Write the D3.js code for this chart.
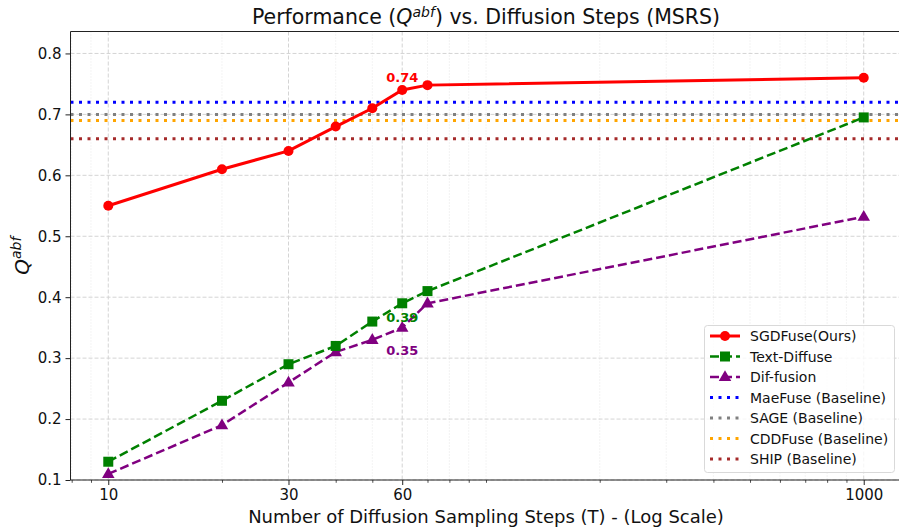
<!DOCTYPE html>
<html>
<head>
<meta charset="utf-8">
<script src="https://cdn.jsdelivr.net/npm/d3@7"></script>
<style>
  body { margin: 0; background: #fff; }
  svg { font-family: "DejaVu Sans", sans-serif; }
</style>
</head>
<body>
<div id="chart"></div>
<script>
var width = 899,
    height = 527;

// data
var steps = [10, 20, 30, 40, 50, 60, 70, 1000];
var sgdfuse = [0.55, 0.61, 0.64, 0.68, 0.71, 0.74, 0.748, 0.76];
var textDiffuse = [0.13, 0.23, 0.29, 0.32, 0.36, 0.39, 0.41, 0.695];
var difFusion = [0.11, 0.19, 0.26, 0.31, 0.33, 0.35, 0.39, 0.532];
var baselineNames = ["MaeFuse (Baseline)", "SAGE (Baseline)", "CDDFuse (Baseline)", "SHIP (Baseline)"];
var baselineValues = [0.72, 0.70, 0.69, 0.66];
var xTickValues = [10, 30, 60, 1000];
var yTickValues = [0.1, 0.2, 0.3, 0.4, 0.5, 0.6, 0.7, 0.8];

var series = [
  {name: "SGDFuse(Ours)", values: sgdfuse, color: "#ff0000", dash: null, lw: 3, marker: "circle", label: "0.74", labelDy: -13},
  {name: "Text-Diffuse", values: textDiffuse, color: "#008000", dash: "9,4", lw: 2.5, marker: "square", label: "0.39", labelDy: 14},
  {name: "Dif-fusion", values: difFusion, color: "#800080", dash: "9,4", lw: 2.5, marker: "triangle", label: "0.35", labelDy: 23}
];
var baselineColors = ["#0000ff", "#808080", "#ffa500", "#a52a2a"];

var margin = {left: 70.5, right: 901.5, top: 31.5, bottom: 480};

var x = d3.scaleLog().domain([7.943, 1258.9]).range([margin.left, margin.right]);
var y = d3.scaleLinear().domain([0.1, 0.836]).range([margin.bottom, margin.top]);

var svg = d3.select("#chart").append("svg")
    .attr("width", width)
    .attr("height", height);

var minorX = x.ticks().filter(function(t){ return xTickValues.indexOf(t) < 0; });

// grid
var grid = svg.append("g");
grid.selectAll(".minor").data(minorX).enter().append("line")
    .attr("x1", function(d){ return x(d); }).attr("x2", function(d){ return x(d); })
    .attr("y1", margin.top).attr("y2", margin.bottom)
    .attr("stroke", "#e2e2e2").attr("stroke-width", 0.8).attr("stroke-dasharray", "1,2");
grid.selectAll(".majx").data(xTickValues).enter().append("line")
    .attr("x1", function(d){ return x(d); }).attr("x2", function(d){ return x(d); })
    .attr("y1", margin.top).attr("y2", margin.bottom)
    .attr("stroke", "#d4d4d4").attr("stroke-width", 1).attr("stroke-dasharray", "4,2");
grid.selectAll(".majy").data(yTickValues).enter().append("line")
    .attr("x1", margin.left).attr("x2", margin.right)
    .attr("y1", function(d){ return y(d); }).attr("y2", function(d){ return y(d); })
    .attr("stroke", "#d4d4d4").attr("stroke-width", 1).attr("stroke-dasharray", "4,2");

// baselines
baselineValues.forEach(function(v, i){
  svg.append("line")
    .attr("x1", margin.left).attr("x2", margin.right)
    .attr("y1", y(v)).attr("y2", y(v))
    .attr("stroke", baselineColors[i]).attr("stroke-width", 3)
    .attr("stroke-dasharray", "3,5.5");
});

var line = d3.line()
    .x(function(d){ return x(d[0]); })
    .y(function(d){ return y(d[1]); });

function drawMarker(g, type, cx, cy, color) {
  if (type == "circle") {
    g.append("circle").attr("cx", cx).attr("cy", cy).attr("r", 5).attr("fill", color);
  } else if (type == "square") {
    g.append("rect").attr("x", cx - 5).attr("y", cy - 5).attr("width", 10).attr("height", 10).attr("fill", color);
  } else {
    g.append("path").attr("d", d3.symbol().type(d3.symbolTriangle).size(68)())
      .attr("transform", "translate(" + cx + "," + (cy + 0.5) + ")").attr("fill", color);
  }
}

// draw back to front so red is on top
series.slice().reverse().forEach(function(s){
  var pts = steps.map(function(t, i){ return [t, s.values[i]]; });
  var g = svg.append("g");
  g.append("path").datum(pts)
    .attr("d", line)
    .attr("fill", "none")
    .attr("stroke", s.color)
    .attr("stroke-width", s.lw)
    .attr("stroke-dasharray", s.dash);
  pts.forEach(function(p){ drawMarker(g, s.marker, x(p[0]), y(p[1]), s.color); });
});

// annotations at T = 60
series.forEach(function(s){
  var v = s.values[steps.indexOf(60)];
  svg.append("text")
    .attr("x", x(60)).attr("y", y(v) + s.labelDy)
    .attr("text-anchor", "middle").attr("dominant-baseline", "central")
    .attr("font-size", 13).attr("font-weight", "bold")
    .attr("fill", s.color)
    .text(s.label);
});

// spines
svg.append("line").attr("x1", margin.left).attr("x2", margin.left).attr("y1", margin.top).attr("y2", margin.bottom).attr("stroke", "#222").attr("stroke-width", 1);
svg.append("line").attr("x1", margin.left).attr("x2", width).attr("y1", margin.bottom).attr("y2", margin.bottom).attr("stroke", "#222").attr("stroke-width", 1);
svg.append("line").attr("x1", margin.left).attr("x2", width).attr("y1", margin.top).attr("y2", margin.top).attr("stroke", "#222").attr("stroke-width", 1);

// x axis
var xAxis = d3.axisBottom(x).tickValues(xTickValues).tickFormat(d3.format("d")).tickSize(5).tickPadding(4);
var gx = svg.append("g").attr("transform", "translate(0," + margin.bottom + ")").call(xAxis);
gx.select(".domain").remove();
gx.selectAll("text").attr("font-size", 15).attr("fill", "#111").attr("font-family", "DejaVu Sans");
gx.selectAll(".tick line").attr("stroke", "#222");
var gxm = svg.append("g").attr("transform", "translate(0," + margin.bottom + ")")
    .call(d3.axisBottom(x).tickValues(minorX).tickFormat("").tickSize(2.8));
gxm.select(".domain").remove();
gxm.selectAll(".tick line").attr("stroke", "#222").attr("stroke-width", 0.8);

// y axis
var yAxis = d3.axisLeft(y).tickValues(yTickValues).tickFormat(d3.format(".1f")).tickSize(5).tickPadding(4);
var gy = svg.append("g").attr("transform", "translate(" + margin.left + ",0)").call(yAxis);
gy.select(".domain").remove();
gy.selectAll("text").attr("font-size", 15).attr("fill", "#111").attr("font-family", "DejaVu Sans");
gy.selectAll(".tick line").attr("stroke", "#222");

// title
var title = svg.append("text")
    .attr("x", (margin.left + margin.right) / 2).attr("y", 24)
    .attr("text-anchor", "middle").attr("font-size", 20.5).attr("fill", "#111");
title.append("tspan").text("Performance (");
title.append("tspan").attr("font-style", "italic").text("Q");
title.append("tspan").attr("font-size", 14).attr("font-style", "italic").attr("dy", -7).text("abf");
title.append("tspan").attr("dy", 7).text(") vs. Diffusion Steps (MSRS)");

// x label
svg.append("text")
    .attr("x", (margin.left + margin.right) / 2).attr("y", 523)
    .attr("text-anchor", "middle").attr("font-size", 18).attr("fill", "#111")
    .text("Number of Diffusion Sampling Steps (T) - (Log Scale)");

// y label
var yl = svg.append("text")
    .attr("transform", "translate(29," + ((margin.top + margin.bottom) / 2) + ") rotate(-90)")
    .attr("text-anchor", "middle").attr("font-size", 20).attr("fill", "#111");
yl.append("tspan").attr("font-style", "italic").text("Q");
yl.append("tspan").attr("font-size", 14).attr("font-style", "italic").attr("dy", -8).text("abf");

// legend
var legendItems = series.map(function(s){
  return {name: s.name, color: s.color, dash: s.dash, lw: s.lw, marker: s.marker};
}).concat(baselineNames.map(function(n, i){
  return {name: n, color: baselineColors[i], dash: "3,5.5", lw: 3, marker: null};
}));

var lg = svg.append("g");
lg.append("rect")
    .attr("x", 704.5).attr("y", 325.5).attr("width", 190).attr("height", 147)
    .attr("rx", 3).attr("fill", "#fff").attr("fill-opacity", 0.8)
    .attr("stroke", "#d9d9d9").attr("stroke-width", 1);
legendItems.forEach(function(d, i){
  var cy = 336 + i * 20.5;
  lg.append("line")
    .attr("x1", 710).attr("x2", 740).attr("y1", cy).attr("y2", cy)
    .attr("stroke", d.color).attr("stroke-width", d.lw)
    .attr("stroke-dasharray", d.dash);
  if (d.marker) drawMarker(lg, d.marker, 725, cy, d.color);
  lg.append("text")
    .attr("x", 750).attr("y", cy).attr("dominant-baseline", "central")
    .attr("font-size", 14).attr("fill", "#111")
    .text(d.name);
});
</script>
</body>
</html>
